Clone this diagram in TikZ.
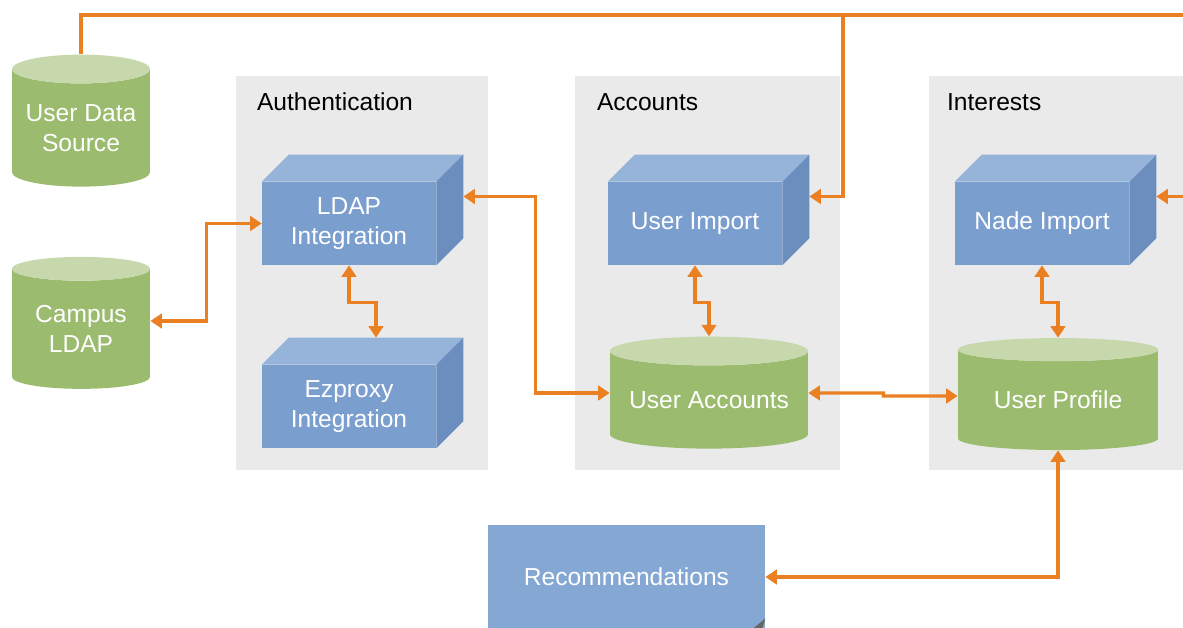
\documentclass[tikz,border=0pt]{standalone}
\usepackage{fontspec}
\setmainfont{Liberation Sans}
\usetikzlibrary{shapes.geometric, arrows.meta, positioning, calc}
\definecolor{tporange}{RGB}{234,128,34}
\definecolor{tpgreen}{RGB}{155,187,110}
\definecolor{tpgreenlt}{RGB}{198,216,172}
\definecolor{tpblue}{RGB}{122,158,206}
\definecolor{tpbluetop}{RGB}{150,180,218}
\definecolor{tpblueside}{RGB}{108,142,190}
\definecolor{tpdoc}{RGB}{133,167,212}
\definecolor{tpgrey}{RGB}{234,234,234}

\begin{document}
\begin{tikzpicture}[x=0.02cm, y=-0.02cm,
  panel/.style={rectangle, fill=tpgrey, minimum height=7.88cm},
  ptitle/.style={anchor=base west, font=\fontsize{14}{17}\selectfont, inner sep=0pt},
  box/.style={rectangle, fill=tpblue, minimum width=3.48cm, minimum height=1.66cm, text=white, align=center, font=\fontsize{14}{17}\selectfont},
  cyl/.style={cylinder, shape border rotate=90, aspect=0.22, cylinder uses custom fill, cylinder body fill=tpgreen, cylinder end fill=tpgreenlt, text=white, align=center, font=\fontsize{14}{17}\selectfont, inner sep=0pt},
  doc/.style={rectangle, fill=tpdoc, text=white, font=\fontsize{14}{17}\selectfont},
  link/.style={draw=tporange, line width=1.9pt, -{Triangle[length=2.3mm, width=2.9mm]}},
  dlink/.style={link, {Triangle[length=2.3mm, width=2.9mm]}-{Triangle[length=2.3mm, width=2.9mm]}}
]
\useasboundingbox (0,0) rectangle (1183,628);
\clip (0,0) rectangle (1183,628);
% panels
\node[panel, minimum width=5.04cm] (authp) at (362,273) {};
\node[panel, minimum width=5.30cm] (accp) at (707.5,273) {};
\node[panel, minimum width=5.22cm] (intp) at (1059.5,273) {};
\node[ptitle] at ($(authp.north west)+(21,35)$) {Authentication};
\node[ptitle] at ($(accp.north west)+(22,35)$) {Accounts};
\node[ptitle] at ($(intp.north west)+(18,35)$) {Interests};
% data stores
\node[cyl, aspect=0.26, minimum width=2.76cm, minimum height=2.64cm] (uds) at (81,128) {User Data\\Source};
\node[cyl, aspect=0.26, minimum width=2.76cm, minimum height=2.64cm] (cldap) at (81,329) {Campus\\LDAP};
\node[cyl, aspect=0.18, minimum width=3.96cm, minimum height=2.24cm] (uacc) at (709,400) {User Accounts};
\node[cyl, aspect=0.18, minimum width=4.00cm, minimum height=2.24cm] (uprof) at (1058,400) {User Profile};
% components
\node[box] (ldap) at (349,223.5) {LDAP\\Integration};
\node[box] (ezp) at (349,406.5) {Ezproxy\\Integration};
\node[box] (uimp) at (695,223.5) {User Import};
\node[box] (nimp) at (1042,223.5) {Nade Import};
\foreach \b in {ldap,ezp,uimp,nimp}{
  \fill[tpbluetop] (\b.north west) -- ++(27,-27) -- ($(\b.north east)+(27,-27)$) -- (\b.north east) -- cycle;
  \fill[tpblueside] (\b.north east) -- ++(27,-27) -- ($(\b.south east)+(27,-27)$) -- (\b.south east) -- cycle;
}
\node[doc, minimum width=5.54cm, minimum height=2.08cm] (rec) at (626.5,577) {Recommendations};
\fill[gray!80!black] ($(rec.south east)+(-13,0)$) -- ($(rec.south east)+(0,-11)$) -- ($(rec.south east)+(-3,-1)$) -- cycle;
% feeds from outside
\coordinate (topr) at (1190,15);
\coordinate (tjct) at (843,15);
\coordinate (rin) at (1190,196.5);
\draw[draw=tporange, line width=1.9pt] (uds.north) |- (topr);
\draw[link] (tjct) |- ($(uimp.east)+(27,-27)$);
\draw[link] (rin) -- ($(nimp.east)+(27,-27)$);
% connectors
\draw[dlink] ($(cldap.east)+(0,-8)$) -- ++(56,0) |- (ldap.west);
\draw[dlink] (ldap.south) -- ++(0,37) -| ($(ezp.north)+(27,-27)$);
\draw[dlink] ($(ldap.east)+(27,-27)$) -- ++(72,0) |- ($(uacc.west)+(0,-7)$);
\draw[dlink] (uimp.south) -- ++(0,37) -| (uacc.north);
\draw[dlink] ($(uacc.east)+(0,-7)$) -- ++(75,0) -- ++(0,3) -- ($(uprof.west)+(0,-4)$);
\draw[dlink] (nimp.south) -- ++(0,37) -| (uprof.north);
\draw[dlink] (uprof.south) |- (rec.east);
\end{tikzpicture}
\end{document}
